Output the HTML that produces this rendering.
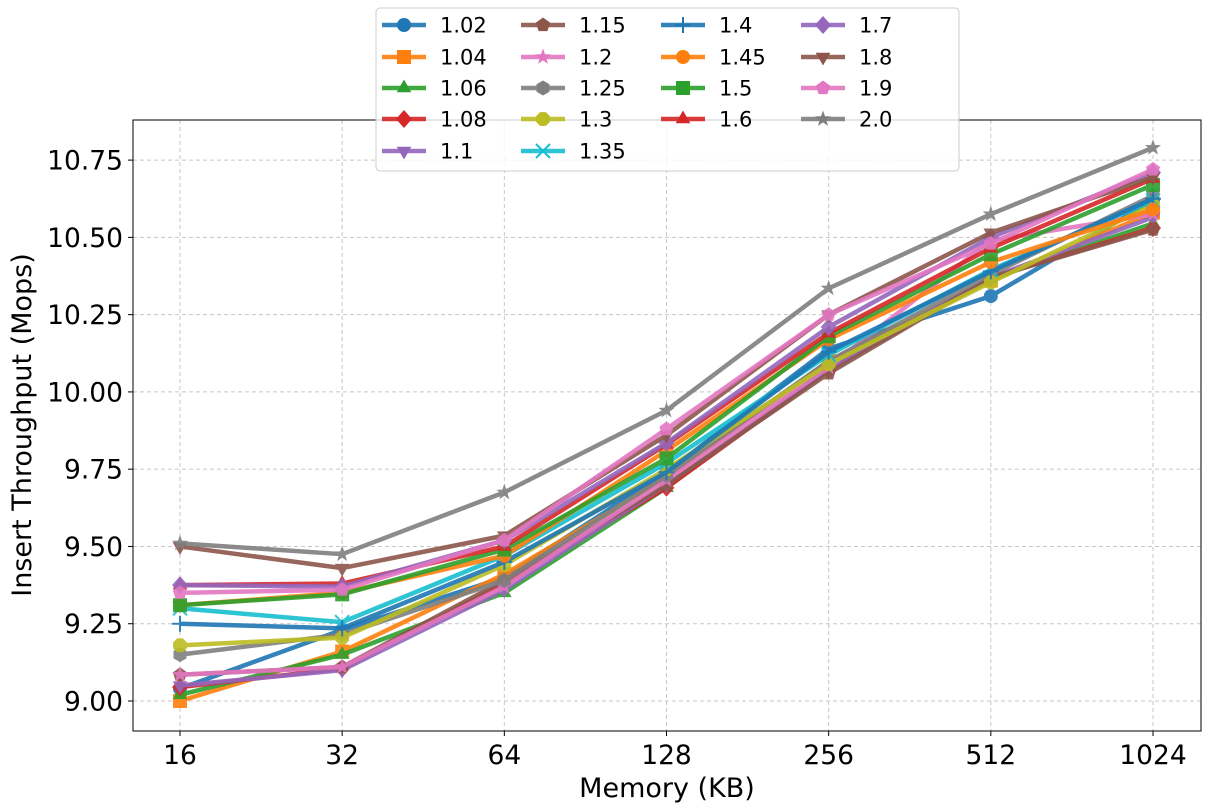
<!DOCTYPE html>
<html><head><meta charset="utf-8"><style>
body{margin:0;background:#fff;}
svg{display:block;font-family:"DejaVu Sans","Liberation Sans",sans-serif;}
</style></head><body>
<svg id="chart" width="1211" height="811" viewBox="0 0 1211 811" xmlns="http://www.w3.org/2000/svg">
<rect x="0" y="0" width="1211" height="811" fill="#fff"/>
<g id="grid"></g><g id="series"></g><g id="axes"></g><g id="legend"></g>
</svg>
<script>
const categories = ["16","32","64","128","256","512","1024"];
const seriesNames = ["1.02","1.04","1.06","1.08","1.1","1.15","1.2","1.25","1.3","1.35","1.4","1.45","1.5","1.6","1.7","1.8","1.9","2.0"];
const s102 = [9.04,9.23,9.40,9.74,10.14,10.31,10.62];
const s104 = [9.00,9.16,9.41,9.72,10.10,10.36,10.58];
const s106 = [9.02,9.15,9.35,9.69,10.08,10.365,10.545];
const s108 = [9.045,9.105,9.38,9.69,10.07,10.37,10.53];
const s110 = [9.05,9.10,9.36,9.70,10.07,10.37,10.565];
const s115 = [9.085,9.11,9.39,9.70,10.06,10.37,10.525];
const s120 = [9.085,9.11,9.37,9.715,10.08,10.49,10.575];
const s125 = [9.15,9.215,9.39,9.73,10.10,10.38,10.635];
const s130 = [9.18,9.205,9.44,9.75,10.09,10.355,10.605];
const s135 = [9.30,9.255,9.47,9.77,10.12,10.395,10.62];
const s140 = [9.25,9.235,9.45,9.74,10.13,10.39,10.625];
const s145 = [9.31,9.35,9.47,9.81,10.17,10.42,10.59];
const s150 = [9.31,9.345,9.49,9.785,10.18,10.445,10.67];
const s160 = [9.375,9.38,9.50,9.83,10.19,10.465,10.69];
const s170 = [9.375,9.37,9.52,9.835,10.21,10.50,10.71];
const s180 = [9.50,9.43,9.535,9.86,10.25,10.515,10.695];
const s190 = [9.35,9.36,9.52,9.88,10.25,10.48,10.72];
const s200 = [9.51,9.475,9.675,9.94,10.335,10.575,10.79];
const seriesValues = [s102,s104,s106,s108,s110,s115,s120,s125,s130,s135,s140,s145,s150,s160,s170,s180,s190,s200];
const yTicks = [9.00,9.25,9.50,9.75,10.00,10.25,10.50,10.75];

const colors = ["#1f77b4","#ff7f0e","#2ca02c","#d62728","#9467bd","#8c564b","#e377c2","#7f7f7f","#bcbd22","#17becf"];
const markers = ["o","s","^","D","v","p","*","h","8","x","+"];
const L=133,R=1201,T=120,B=731;
const xScale = i => 180 + i*(1153-180)/(categories.length-1);
const yScale = v => 701 - (v-9)*(701-160.1)/1.75;
const NS="http://www.w3.org/2000/svg";
function mk(tag,attrs,parent){const e=document.createElementNS(NS,tag);for(const k in attrs)e.setAttribute(k,attrs[k]);parent.appendChild(e);return e;}
function poly(n,r,rot){let p=[];for(let i=0;i<n;i++){const a=rot+i*2*Math.PI/n;p.push((r*Math.cos(a)).toFixed(2)+","+(r*Math.sin(a)).toFixed(2));}return p.join(" ");}
function star(r){let p=[];for(let i=0;i<10;i++){const a=-Math.PI/2+i*Math.PI/5;const rr=i%2?r*0.4:r;p.push((rr*Math.cos(a)).toFixed(2)+","+(rr*Math.sin(a)).toFixed(2));}return p.join(" ");}
function marker(m,x,y,c,parent,s){
  s=s||1;
  const g=mk("g",{transform:`translate(${x},${y}) scale(${s})`},parent);
  if(m==="o")mk("circle",{r:7,fill:c},g);
  else if(m==="s")mk("rect",{x:-7,y:-7,width:14,height:14,fill:c},g);
  else if(m==="^")mk("polygon",{points:poly(3,8.5,-Math.PI/2),fill:c},g);
  else if(m==="v")mk("polygon",{points:poly(3,8.5,Math.PI/2),fill:c},g);
  else if(m==="D")mk("polygon",{points:"0,-9 8,0 0,9 -8,0",fill:c},g);
  else if(m==="p")mk("polygon",{points:poly(5,7.5,-Math.PI/2),fill:c},g);
  else if(m==="*")mk("polygon",{points:star(8.5),fill:c},g);
  else if(m==="h")mk("polygon",{points:poly(6,7.5,-Math.PI/2),fill:c},g);
  else if(m==="8")mk("polygon",{points:poly(8,7.5,Math.PI/8),fill:c},g);
  else if(m==="x")mk("path",{d:"M-7,-7L7,7M-7,7L7,-7",stroke:c,"stroke-width":2,fill:"none"},g);
  else mk("path",{d:"M-8,0L8,0M0,-8L0,8",stroke:c,"stroke-width":2,fill:"none"},g);
  return g;
}
const grid=document.getElementById("grid"),axes=document.getElementById("axes"),ser=document.getElementById("series"),leg=document.getElementById("legend");
categories.forEach((c,i)=>{
  const x=xScale(i);
  const gl=mk("line",{x1:x,x2:x,y1:T,y2:B,stroke:"#b0b0b0","stroke-width":1,"stroke-dasharray":"4,3",opacity:0.7},grid);
  
  
  mk("line",{x1:x,x2:x,y1:B,y2:B+5,stroke:"#000","stroke-width":1},axes);
  const t=mk("text",{x:x,y:B+33,"text-anchor":"middle","font-size":"26.5"},axes);t.textContent=c;
  
  
});
yTicks.forEach(v=>{
  const y=yScale(v);
  const gl=mk("line",{x1:L,x2:R,y1:y,y2:y,stroke:"#b0b0b0","stroke-width":1,"stroke-dasharray":"4,3",opacity:0.7},grid);
  
  
  mk("line",{x1:L-5,x2:L,y1:y,y2:y,stroke:"#000","stroke-width":1},axes);
  const t=mk("text",{x:L-10,y:y+9.5,"text-anchor":"end","font-size":"26.5"},axes);t.textContent=v.toFixed(2);
  
  
});
const frame=mk("rect",{x:L,y:T,width:R-L,height:B-T,fill:"none",stroke:"#000","stroke-width":1},axes);


const xl=mk("text",{x:(L+R)/2,y:797,"text-anchor":"middle","font-size":"27"},axes);xl.textContent="Memory (KB)";


const yl=mk("text",{x:0,y:0,transform:"translate(31,425) rotate(-90)","text-anchor":"middle","font-size":"27"},axes);yl.textContent="Insert Throughput (Mops)";



seriesValues.forEach((vals,si)=>{
  const c=colors[si%10],m=markers[si%11];
  const g=mk("g",{opacity:0.9},ser);
  
  
  const pts=vals.map((v,i)=>xScale(i)+","+yScale(v)).join(" ");
  const pl=mk("polyline",{points:pts,fill:"none",stroke:c,"stroke-width":4.5,"stroke-linejoin":"round"},g);
  
  
  vals.forEach((v,i)=>{
    const mm=marker(m,xScale(i),yScale(v),c,g);
    
    
  });
});

const lb=mk("rect",{x:376,y:8,width:583,height:163,rx:4,fill:"#fff","fill-opacity":0.8,stroke:"#ccc","stroke-width":1},leg);


const colX=[382,521,661,801],rowY=[25,57,88,119,151];
seriesNames.forEach((n,si)=>{
  const col=si<5?0:si<10?1:si<14?2:3;
  const row=si<5?si:si<10?si-5:si<14?si-10:si-14;
  const x=colX[col],y=rowY[row],c=colors[si%10];
  const g=mk("g",{},leg);
  
  
  mk("line",{x1:x,x2:x+44,y1:y,y2:y,stroke:c,"stroke-width":4.5,opacity:0.9},g);
  marker(markers[si%11],x+22,y,c,g);
  const t=mk("text",{x:x+58,y:y+7.5,"font-size":"21"},g);t.textContent=n;
});
</script>
</body></html>
